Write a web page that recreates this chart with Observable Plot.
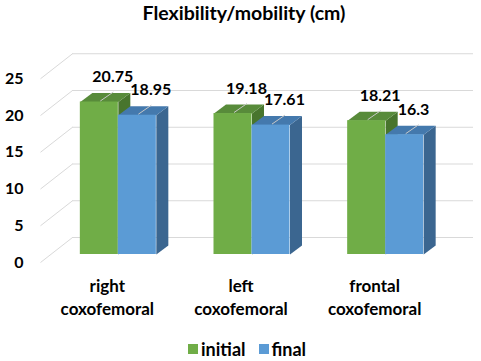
<!DOCTYPE html>
<html>
<head>
<meta charset="utf-8">
<script src="https://cdn.jsdelivr.net/npm/d3@7"></script>
<script src="https://cdn.jsdelivr.net/npm/@observablehq/plot@0.6"></script>
<style>
  html, body { margin: 0; padding: 0; background: #fff; }
  body { width: 481px; height: 361px; overflow: hidden; position: relative; font-family: Lato, "Open Sans", sans-serif; }
  #title { height: 30px; line-height: 25px; padding-bottom: 5px; box-sizing: border-box; text-align: center; font-weight: bold; font-size: 19.5px; color: #000; padding-left: 7px; }
  #chart { height: 300px; }
  #legend { position: absolute; left: 188px; top: 337px; font-weight: bold; font-size: 18px; line-height: 24px; color: #000; display: flex; align-items: center; white-space: nowrap; }
  #legend .sw { display: inline-block; width: 10px; height: 10px; margin-right: 3px; }
  #legend .item { display: flex; align-items: center; margin-right: 13px; }
</style>
</head>
<body>
<div id="title">Flexibility/mobility (cm)</div>
<div id="chart"></div>
<div id="legend"></div>
<script>
// ---- data ----
const categories = ["right\ncoxofemoral", "left\ncoxofemoral", "frontal\ncoxofemoral"];
const seriesNames = ["initial", "final"];
const initialValues = [20.75, 19.18, 18.21];
const finalValues = [18.95, 17.61, 16.3];
const yTicks = [0, 5, 10, 15, 20, 25];

// ---- styling / geometry constants ----
const colors = {
  initial: { front: "#70AD47", top: "#588b3a", side: "#48752d" },
  final:   { front: "#5B9BD5", top: "#4479ad", side: "#3b6690" }
};
const W = 481, H = 300, ML = 40, MR = 40;
const Y0 = 232, YTOP = 48.25;           // pixel positions of 0 and 25 on the front plane
const pxX = (W - ML - MR) / 3;          // px per category unit
const pxY = (Y0 - YTOP) / 25;           // px per value unit
const barW = 38 / pxX;                  // bar width in x units
const depthX = 12 / pxX, depthY = 9 / pxY;      // bar depth
const wallX = 32 / pxX, wallY = 25 / pxY;       // back wall offset
const planeDx = 11, planeDy = -8;               // bar plane offset from front plane

const valuesBySeries = { initial: initialValues, final: finalValues };

const bars = [];
categories.forEach((c, i) => {
  seriesNames.forEach((s, k) => {
    const x1 = i - barW + k * barW;
    const x2 = x1 + barW;
    const v = valuesBySeries[s][i];
    bars.push({ id: `${i}-${s}`, cat: c, series: s, x1, x2, xc: (x1 + x2) / 2, v });
  });
});

const sidePts = [], topPts = [];
for (const b of bars) {
  sidePts.push(
    { id: b.id, s: b.series, x: b.x2, y: 0 },
    { id: b.id, s: b.series, x: b.x2 + depthX, y: depthY },
    { id: b.id, s: b.series, x: b.x2 + depthX, y: b.v + depthY },
    { id: b.id, s: b.series, x: b.x2, y: b.v }
  );
  topPts.push(
    { id: b.id, s: b.series, x: b.x1, y: b.v },
    { id: b.id, s: b.series, x: b.x2, y: b.v },
    { id: b.id, s: b.series, x: b.x2 + depthX, y: b.v + depthY },
    { id: b.id, s: b.series, x: b.x1 + depthX, y: b.v + depthY }
  );
}

const catData = categories.map((c, i) => ({ c, i }));

const plot = Plot.plot({
  width: W,
  height: H,
  marginLeft: ML,
  marginRight: MR,
  marginTop: 0,
  marginBottom: 0,
  style: { fontFamily: "Lato, 'Open Sans', sans-serif", fontSize: "16px", fontWeight: "bold", background: "white", color: "#000", overflow: "visible" },
  x: { domain: [-0.5, 2.5], axis: null },
  y: { domain: [0, 25], range: [Y0, YTOP], ticks: yTicks, tickSize: 0, tickPadding: 17, label: null },
  color: { domain: seriesNames, range: [colors.initial.front, colors.final.front] },
  marks: [
    // back wall gridlines
    Plot.ruleY(yTicks, { y: d => d + wallY, x1: -0.5 + wallX, x2: 2.5 + wallX, stroke: "#d9d9d9", strokeWidth: 1 }),
    // floor-to-wall diagonals at the left
    Plot.link(yTicks, { x1: -0.5, y1: d => d, x2: -0.5 + wallX, y2: d => d + wallY, stroke: "#d9d9d9", strokeWidth: 1 }),
    // bar side faces
    Plot.line(sidePts, { x: "x", y: "y", z: "id", fill: d => colors[d.s].side, stroke: "none", dx: planeDx, dy: planeDy, curve: "linear" }),
    // bar top faces
    Plot.line(topPts, { x: "x", y: "y", z: "id", fill: d => colors[d.s].top, stroke: "none", dx: planeDx, dy: planeDy, curve: "linear" }),
    // bar front faces
    Plot.rectY(bars, { x1: "x1", x2: "x2", y1: 0, y2: "v", fill: "series", dx: planeDx, dy: planeDy, inset: 0 }),
    // leader lines
    Plot.link(bars, { x1: d => d.xc + 1 / pxX, y1: d => d.v + 1 / pxY, x2: d => d.xc + 14 / pxX, y2: d => d.v + 10 / pxY, stroke: "#c8c8c8", strokeWidth: 1, dx: planeDx, dy: planeDy }),
    // value labels
    Plot.text(bars, { x: "xc", y: "v", text: d => String(d.v), textAnchor: "start", dx: planeDx - 7, dy: -33, fill: "#000", fontSize: 16, fontWeight: "bold" }),
    // category labels
    Plot.text(catData, { x: "i", y: 0, text: "c", lineAnchor: "middle", dy: 33.5, lineHeight: 1.38, fontSize: 17, fontWeight: "bold", fill: "#000" })
  ]
});
document.getElementById("chart").appendChild(plot);

// legend
const legend = document.getElementById("legend");
seriesNames.forEach(s => {
  const item = document.createElement("span");
  item.className = "item";
  const sw = document.createElement("span");
  sw.className = "sw";
  sw.style.background = colors[s].front;
  item.appendChild(sw);
  item.appendChild(document.createTextNode(s));
  legend.appendChild(item);
});
</script>
</body>
</html>
